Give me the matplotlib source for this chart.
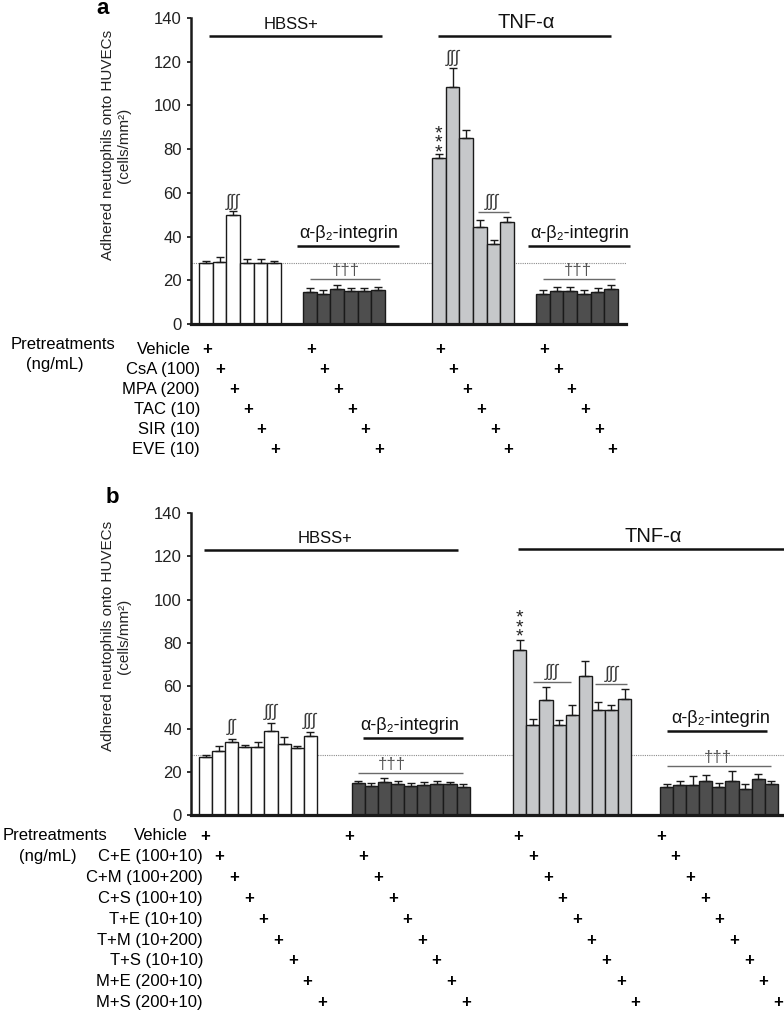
import matplotlib
matplotlib.use('Agg')
import matplotlib.pyplot as plt
import numpy as np
from matplotlib.transforms import blended_transform_factory

plt.rcParams['font.family'] = ['Liberation Sans', 'DejaVu Sans']

# ---------------- data ----------------
a_treatments = ['Vehicle', 'CsA (100)', 'MPA (200)', 'TAC (10)', 'SIR (10)', 'EVE (10)']
a_hbss = [27.9, 28.5, 49.7, 27.8, 27.8, 27.8]
a_hbss_err = [0.9, 2.1, 2.1, 1.8, 1.8, 0.9]
a_hbss_int = [14.8, 13.7, 15.9, 15.0, 15.0, 15.5]
a_hbss_int_err = [1.8, 1.8, 1.9, 1.6, 1.6, 1.6]
a_tnf = [76.0, 108.3, 85.0, 44.5, 36.4, 46.8]
a_tnf_err = [1.6, 8.7, 3.7, 3.1, 1.9, 2.1]
a_tnf_int = [13.7, 15.1, 15.1, 13.7, 14.6, 16.0]
a_tnf_int_err = [1.8, 1.9, 1.9, 1.8, 2.0, 1.7]

b_treatments = ['Vehicle', 'C+E (100+10)', 'C+M (100+200)', 'C+S (100+10)', 'T+E (10+10)',
                'T+M (10+200)', 'T+S (10+10)', 'M+E (200+10)', 'M+S (200+10)']
b_hbss = [26.8, 29.7, 33.7, 31.7, 31.7, 39.1, 33.0, 30.9, 36.7]
b_hbss_err = [1.2, 2.3, 1.7, 0.6, 2.2, 3.6, 3.0, 1.1, 1.8]
b_hbss_int = [15.0, 13.5, 15.1, 14.3, 13.5, 13.9, 14.3, 14.5, 12.9]
b_hbss_int_err = [0.8, 1.5, 1.9, 1.5, 1.5, 1.2, 1.7, 0.6, 1.4]
b_tnf = [76.7, 41.9, 53.2, 41.9, 46.4, 64.7, 48.6, 48.6, 54.0]
b_tnf_err = [4.7, 2.8, 6.0, 2.3, 4.8, 6.8, 4.0, 2.4, 4.3]
b_tnf_int = [13.0, 13.8, 13.8, 15.8, 13.0, 15.8, 12.1, 16.6, 14.5]
b_tnf_int_err = [1.4, 2.1, 4.5, 2.8, 1.7, 4.8, 2.1, 2.3, 1.3]

baseline = 28
yticks = [0, 20, 40, 60, 80, 100, 120, 140]
ylabel = 'Adhered neutophils onto HUVECs\n(cells/mm²)'

# ---------------- layout ----------------
W, H = 784, 1015
fig = plt.figure(figsize=(W / 100, H / 100), dpi=100)

def fy(py):
    return 1 - py / H

WHITE, DARK, LIGHT = '#ffffff', '#4e4e4e', '#c6c8ca'
EDGE = '#1a1a1a'

ax_a = fig.add_axes([191 / W, fy(324), (626 - 191) / W, (324 - 18) / H])
ax_b = fig.add_axes([191 / W, fy(815), (784 - 191) / W, (815 - 513.3) / H])


def setup(ax, xmax):
    ax.set_xlim(0, xmax)
    ax.set_ylim(0, 140)
    ax.set_yticks(yticks)
    ax.set_xticks([])
    for s in ['top', 'right']:
        ax.spines[s].set_visible(False)
    ax.spines['left'].set_linewidth(1.8)
    ax.spines['bottom'].set_linewidth(2.3)
    ax.spines['left'].set_color(EDGE)
    ax.spines['bottom'].set_color(EDGE)
    ax.tick_params(axis='y', direction='out', length=3, width=1.3, labelsize=12, pad=3.5,
                   colors='#222222')
    ax.axhline(baseline, color='#8c8c8c', lw=0.8, ls=(0, (1, 1)), zorder=0)
    ax.patch.set_alpha(0)


def draw_group(ax, start, vals, errs, color):
    x = start + 0.5 + np.arange(len(vals))
    ax.bar(x, vals, width=1.0, color=color, edgecolor=EDGE, linewidth=1.0, zorder=2)
    ax.errorbar(x, vals, yerr=[np.zeros(len(vals)), errs], fmt='none', ecolor=EDGE,
                elinewidth=1.0, capsize=2.8, capthick=1.0, zorder=3)
    return x


def hline(ax, x0, x1, y, lw=1.8, color='#111111'):
    ax.plot([x0, x1], [y, y], color=color, lw=lw, clip_on=False, solid_capstyle='butt', zorder=4)


def txt(ax, x, y, s, size=11, color='#111111', **kw):
    ax.text(x, y, s, ha='center', va='bottom', fontsize=size, color=color, clip_on=False,
            zorder=5, **kw)


def stars(ax, x, y):
    ax.text(x, y, '*\n*\n*', ha='center', va='bottom', fontsize=14, linespacing=0.42,
            color='#222222', clip_on=False, zorder=5)


INT = '∫∫∫'
DAG = '†††'
ALPHA = 'α-β₂-integrin'
ISZ = 12.5
ICOL = '#3a3a3a'
DSZ = 12
DCOL = '#555555'

# ---------------- panel a ----------------
setup(ax_a, 31.82)
a_starts = [0.585, 8.19, 17.63, 25.24]
xa1 = draw_group(ax_a, a_starts[0], a_hbss, a_hbss_err, WHITE)
xa2 = draw_group(ax_a, a_starts[1], a_hbss_int, a_hbss_int_err, DARK)
xa3 = draw_group(ax_a, a_starts[2], a_tnf, a_tnf_err, LIGHT)
xa4 = draw_group(ax_a, a_starts[3], a_tnf_int, a_tnf_int_err, DARK)

hline(ax_a, 1.32, 13.97, 131.7)
txt(ax_a, 7.3, 133.6, 'HBSS+', size=12)
hline(ax_a, 18.07, 30.72, 131.7)
txt(ax_a, 24.5, 133.6, 'TNF-α', size=14.5)
hline(ax_a, 7.75, 15.2, 35.5)
txt(ax_a, 11.5, 37.3, ALPHA, size=13)
hline(ax_a, 24.65, 32.1, 35.8)
txt(ax_a, 28.4, 37.6, ALPHA, size=13)
hline(ax_a, 8.7, 13.8, 20.7, lw=1.0, color='#6a6a6a')
txt(ax_a, 11.3, 21.0, DAG, size=DSZ, color=DCOL)
hline(ax_a, 25.75, 31.0, 20.6, lw=1.0, color='#6a6a6a')
txt(ax_a, 28.3, 20.9, DAG, size=DSZ, color=DCOL)
txt(ax_a, xa1[2], 52.0, INT, size=ISZ, color=ICOL)
txt(ax_a, xa3[1], 118.0, INT, size=ISZ, color=ICOL)
stars(ax_a, xa3[0], 74.5)
hline(ax_a, 21.0, 23.26, 51.4, lw=1.0, color='#6a6a6a')
txt(ax_a, 22.0, 52.0, INT, size=ISZ, color=ICOL)

# ---------------- panel b ----------------
setup(ax_b, 45.27)
b_starts = [0.61, 12.27, 24.6, 35.8]
xb1 = draw_group(ax_b, b_starts[0], b_hbss, b_hbss_err, WHITE)
xb2 = draw_group(ax_b, b_starts[1], b_hbss_int, b_hbss_int_err, DARK)
xb3 = draw_group(ax_b, b_starts[2], b_tnf, b_tnf_err, LIGHT)
xb4 = draw_group(ax_b, b_starts[3], b_tnf_int, b_tnf_int_err, DARK)

hline(ax_b, 0.99, 20.38, 123.0)
txt(ax_b, 10.2, 124.8, 'HBSS+', size=12)
hline(ax_b, 25.0, 45.27, 123.3)
txt(ax_b, 35.3, 125.0, 'TNF-α', size=14.5)
hline(ax_b, 13.1, 20.8, 35.6)
txt(ax_b, 16.7, 37.4, ALPHA, size=13)
hline(ax_b, 12.75, 20.76, 19.3, lw=1.0, color='#6a6a6a')
txt(ax_b, 15.3, 19.9, DAG, size=DSZ, color=DCOL)
txt(ax_b, xb1[2], 37.3, '∫∫', size=ISZ, color=ICOL)
txt(ax_b, xb1[5], 44.3, INT, size=ISZ, color=ICOL)
txt(ax_b, xb1[8], 39.7, INT, size=ISZ, color=ICOL)
stars(ax_b, xb3[0], 78.5)
hline(ax_b, 26.1, 29.0, 61.9, lw=1.0, color='#6a6a6a')
txt(ax_b, 27.56, 62.7, INT, size=ISZ, color=ICOL)
hline(ax_b, 30.84, 33.3, 60.8, lw=1.0, color='#6a6a6a')
txt(ax_b, 32.1, 61.7, INT, size=ISZ, color=ICOL)
hline(ax_b, 36.3, 44.0, 39.1)
txt(ax_b, 40.4, 40.9, ALPHA, size=13)
hline(ax_b, 36.3, 44.3, 22.9, lw=1.0, color='#6a6a6a')
txt(ax_b, 40.25, 23.4, DAG, size=DSZ, color=DCOL)

# ---------------- y labels & panel letters ----------------
for cy in (145, 636):
    fig.text(116 / W, fy(cy), ylabel, rotation=90, ha='center', va='center', fontsize=11,
             linespacing=1.15, multialignment='center', color='#222222')
fig.text(103 / W, fy(9), 'a', fontsize=16, fontweight='bold', ha='center', va='center')
fig.text(112 / W, fy(498), 'b', fontsize=16, fontweight='bold', ha='center', va='center')

# ---------------- pretreatment tables ----------------
LBL = 12
fig.text(115 / W, fy(345), 'Pretreatments', ha='right', va='center', fontsize=LBL)
fig.text(55 / W, fy(364), '(ng/mL)', ha='center', va='center', fontsize=LBL)
tr_a = blended_transform_factory(ax_a.transData, fig.transFigure)
for i, name in enumerate(a_treatments):
    y = fy(349.3 + 20.1 * i)
    xr = 191 if i == 0 else 200
    fig.text(xr / W, y, name, ha='right', va='center', fontsize=LBL)
    for xs in (xa1, xa2, xa3, xa4):
        ax_a.text(xs[i] + 0.08, y, '+', transform=tr_a, ha='center', va='center',
                  fontsize=12, fontweight='bold', clip_on=False)

fig.text(107 / W, fy(836), 'Pretreatments', ha='right', va='center', fontsize=LBL)
fig.text(48 / W, fy(857), '(ng/mL)', ha='center', va='center', fontsize=LBL)
tr_b = blended_transform_factory(ax_b.transData, fig.transFigure)
plus_start_b = [1.07, 12.06, 25.0, 35.88]
plus_step_b = 1.115
for i, name in enumerate(b_treatments):
    y = fy(836 + 20.8 * i)
    xr = 188 if i == 0 else 203
    fig.text(xr / W, y, name, ha='right', va='center', fontsize=LBL)
    for s in plus_start_b:
        ax_b.text(s + plus_step_b * i, y, '+', transform=tr_b, ha='center', va='center',
                  fontsize=12, fontweight='bold', clip_on=False)

fig.savefig('out.png', dpi=100)
